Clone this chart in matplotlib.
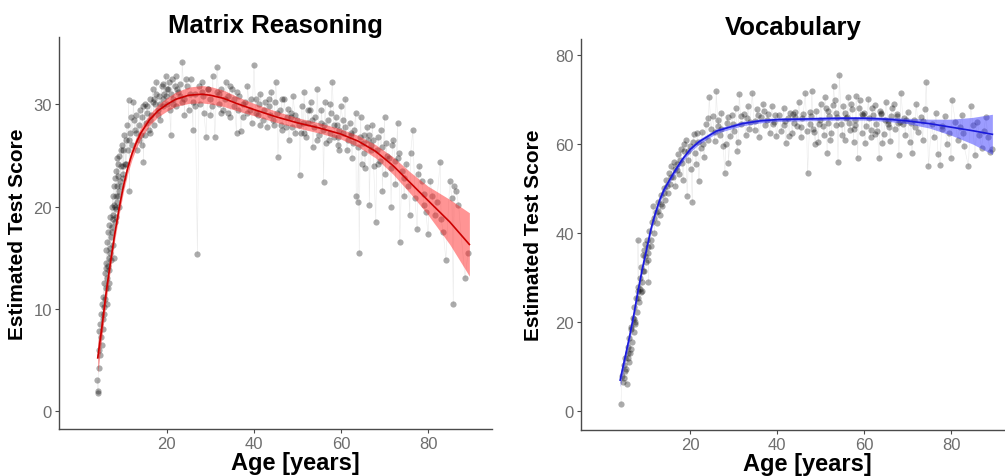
import matplotlib
matplotlib.use("Agg")
import matplotlib.pyplot as plt
import numpy as np

plt.rcParams['font.family'] = ['Liberation Sans', 'DejaVu Sans']

# ---- Matrix Reasoning: individual scores ----
mr_age = [
    4.0, 4.1, 4.2, 4.3, 4.4, 4.5, 4.6, 4.7, 4.8, 4.9,
    5.0, 5.1, 5.2, 5.3, 5.4, 5.5, 5.6, 5.7, 5.8, 5.9,
    6.0, 6.1, 6.2, 6.3, 6.4, 6.5, 6.6, 6.7, 6.8, 6.9,
    7.0, 7.1, 7.2, 7.3, 7.4, 7.5, 7.6, 7.7, 7.8, 7.9,
    8.0, 8.1, 8.2, 8.3, 8.4, 8.5, 8.6, 8.7, 8.8, 8.9,
    9.0, 9.2, 9.4, 9.6, 9.8, 10.0, 10.2, 10.4, 10.6, 10.8,
    11.0, 11.2, 11.4, 11.6, 11.8, 12.0, 12.3, 12.6, 12.9, 13.2,
    5.5, 6.0, 6.5, 7.0, 7.5, 8.0, 8.5, 9.0, 9.5, 10.0,
    13.5, 13.8, 14.0, 14.3, 14.6, 14.9, 15.2, 15.5, 15.8, 16.1,
    16.4, 16.7, 17.0, 17.3, 17.6, 17.9, 18.2, 18.5, 18.8, 19.1,
    19.4, 19.7, 20.0, 20.3, 20.6, 20.9, 21.2, 21.5, 21.8, 22.1,
    14.2, 15.0, 16.0, 17.0, 18.0, 19.0, 20.0, 21.0, 22.0, 23.0,
    22.5, 23.0, 23.5, 24.0, 24.5, 25.0, 25.5, 26.0, 26.5, 27.0,
    27.5, 28.0, 28.5, 29.0, 29.5, 30.0, 30.5, 31.0, 31.5, 32.0,
    32.5, 33.0, 33.5, 34.0, 34.5, 35.0, 35.5, 36.0, 36.5, 37.0,
    24.0, 26.0, 28.0, 30.0, 32.0, 34.0, 36.0, 38.0, 37.5, 38.5,
    39.0, 39.5, 40.0, 40.5, 41.0, 41.5, 42.0, 42.5, 43.0, 43.5,
    44.0, 44.5, 45.0, 45.5, 46.0, 46.5, 47.0, 47.5, 48.0, 48.5,
    49.0, 49.5, 50.0, 50.5, 51.0, 51.5, 52.0, 52.5, 53.0, 53.5,
    54.0, 54.5, 55.0, 55.5, 56.0, 56.5, 57.0, 57.5, 58.0, 58.5,
    59.0, 59.5, 60.0, 60.5, 41.2, 43.8, 46.2, 48.8, 51.2, 53.8,
    55.8, 57.2, 58.8, 44.8, 47.8, 50.8, 52.8, 56.2, 59.2, 61.0,
    61.5, 62.0, 62.5, 63.0, 63.5, 64.0, 64.2, 64.5, 65.0, 65.5,
    66.0, 66.5, 67.0, 67.5, 68.0, 68.5, 69.0, 69.5, 70.0, 70.5,
    61.0, 62.8, 63.8, 65.2, 66.8, 68.2, 69.2, 70.2, 64.8, 67.2,
    71.0, 71.5, 72.0, 72.5, 73.0, 73.5, 74.0, 74.5, 75.0, 75.5,
    76.0, 76.5, 77.0, 77.5, 78.0, 78.5, 79.0, 79.5, 80.0, 80.5,
    81.0, 81.5, 82.0, 82.8, 83.5, 84.1, 85.0, 85.5, 85.8, 86.5,
    87.0, 88.5, 89.2, 77.8, 79.0, 73.0, 75.8, 71.8, 83.0, 86.0,
    12.5, 13.0, 13.6, 14.4, 15.4, 16.2, 16.8, 17.4, 18.4, 19.2,
    19.8, 20.4, 21.4, 22.4, 23.4, 24.4, 25.4, 26.4, 27.4, 28.4,
    29.4, 30.4, 31.4, 32.4, 33.4, 34.4, 35.4, 36.4, 37.4, 38.4,
    39.4, 40.4, 41.4, 42.4, 43.4, 44.4, 45.4, 46.4, 47.4, 48.4,
    49.4, 50.4, 51.4, 52.4, 53.4, 54.4, 55.4, 56.4, 57.4, 58.4,
    59.4, 60.4, 61.4, 62.4, 63.4, 64.4, 65.4, 66.4, 67.4, 68.4,
    69.4, 70.4, 71.4, 72.4, 73.4, 74.4, 57.6, 59.6, 62.2, 66.2,
    6.2, 6.8, 7.4, 7.8, 8.2, 8.8, 9.4, 10.0, 10.6, 11.4,
]
mr_score = [
    3.0, 2.0, 1.8, 7.8, 4.2, 6.0, 8.5, 5.5, 7.2, 9.5,
    6.5, 10.5, 8.0, 11.2, 9.0, 12.5, 10.2, 13.5, 11.0, 14.5,
    12.0, 15.8, 13.0, 16.5, 14.2, 17.5, 15.0, 12.5, 18.2, 16.0,
    19.0, 17.0, 14.8, 20.0, 18.0, 21.0, 16.2, 19.2, 22.0, 20.2,
    18.5, 22.8, 21.0, 19.8, 23.5, 22.0, 20.5, 24.2, 23.0, 21.5,
    25.0, 22.5, 24.0, 26.0, 23.2, 25.5, 27.0, 24.2, 26.5, 28.0,
    25.5, 30.4, 21.5, 27.2, 28.8, 26.0, 30.2, 27.5, 29.0, 25.5,
    9.5, 14.0, 12.0, 15.5, 18.8, 20.0, 24.8, 20.0, 25.5, 22.8,
    28.0, 29.5, 27.0, 28.8, 24.4, 30.0, 28.2, 29.2, 27.5, 30.5,
    29.0, 31.5, 28.0, 30.0, 32.2, 29.0, 30.8, 28.5, 31.8, 29.8,
    31.0, 32.8, 30.0, 31.5, 29.5, 27.0, 32.5, 30.5, 31.8, 29.8,
    26.0, 27.0, 28.5, 30.5, 29.5, 30.5, 31.5, 31.0, 32.8, 30.8,
    31.2, 32.0, 34.2, 30.5, 31.8, 29.5, 32.5, 27.5, 31.0, 15.4,
    30.0, 32.2, 29.2, 26.8, 31.5, 30.5, 32.8, 26.8, 33.7, 30.0,
    31.5, 29.5, 32.2, 30.8, 28.8, 31.5, 29.8, 27.2, 30.8, 27.4,
    29.0, 30.2, 31.2, 29.0, 31.0, 29.2, 31.2, 30.2, 28.8, 31.8,
    29.5, 28.2, 33.9, 30.5, 29.0, 31.0, 28.5, 30.2, 27.8, 29.8,
    31.2, 28.0, 32.2, 24.9, 29.5, 27.5, 30.5, 28.8, 26.5, 29.2,
    30.8, 27.2, 28.5, 23.1, 29.8, 31.2, 26.8, 28.2, 30.2, 25.8,
    28.8, 31.5, 27.0, 29.5, 22.4, 26.2, 28.5, 30.0, 32.2, 26.8,
    28.0, 25.5, 29.8, 27.2, 30.0, 29.0, 28.0, 27.8, 28.2, 27.8,
    27.5, 26.5, 28.8, 30.2, 29.6, 27.2, 29.5, 28.0, 26.0, 30.5,
    26.5, 28.2, 24.8, 27.5, 21.0, 25.8, 15.5, 28.8, 26.2, 23.8,
    27.8, 20.2, 25.5, 24.0, 18.5, 26.8, 24.5, 21.5, 28.8, 25.0,
    27.8, 26.2, 20.5, 27.0, 26.0, 25.5, 27.5, 23.2, 24.2, 28.0,
    24.8, 20.0, 26.5, 22.2, 28.2, 16.5, 23.5, 21.0, 24.2, 22.0,
    25.2, 27.5, 20.8, 17.8, 24.0, 22.5, 21.2, 19.5, 17.3, 22.5,
    21.0, 19.2, 20.5, 24.4, 17.5, 14.8, 22.5, 20.8, 10.5, 21.5,
    20.2, 13.0, 15.5, 23.2, 20.2, 24.8, 19.2, 26.0, 18.8, 22.0,
    28.5, 27.2, 26.5, 29.8, 29.8, 27.2, 30.2, 31.0, 30.0, 32.0,
    30.8, 32.2, 30.0, 31.5, 30.2, 32.5, 31.0, 29.8, 31.8, 30.8,
    31.5, 29.8, 31.2, 29.2, 30.5, 31.8, 30.5, 29.5, 30.0, 29.2,
    30.5, 29.2, 28.0, 29.5, 30.5, 28.5, 29.2, 30.5, 27.8, 28.8,
    29.0, 28.0, 27.2, 29.5, 28.5, 26.5, 28.2, 30.2, 27.2, 28.0,
    26.8, 28.5, 25.5, 27.2, 29.2, 26.8, 25.2, 27.0, 26.5, 24.2,
    25.8, 26.2, 23.8, 24.5, 25.2, 22.8, 29.2, 27.5, 27.0, 26.5,
    10.5, 13.8, 17.5, 15.0, 19.0, 21.0, 22.0, 24.0, 24.2, 26.5,
]

# ---- Matrix Reasoning: fitted curve and confidence band ----
mr_fit_age = [4.1, 5, 6, 7, 8, 9, 10, 11, 12, 13, 14, 16, 18, 20, 22, 25, 28, 30,
              33, 36, 40, 45, 50, 55, 60, 64, 68, 72, 76, 80, 85, 89.5]
mr_fit = [5.2, 8.0, 11.5, 14.5, 17.3, 19.8, 22.0, 23.8, 25.2, 26.3, 27.2, 28.5,
          29.4, 30.0, 30.5, 30.9, 31.0, 30.9, 30.6, 30.1, 29.5, 28.8, 28.2,
          27.7, 27.1, 26.4, 25.4, 24.0, 22.3, 20.6, 18.5, 16.3]
mr_ci = [1.5, 1.0, 0.8, 0.7, 0.6, 0.6, 0.55, 0.55, 0.55, 0.55, 0.55, 0.55, 0.6,
         0.65, 0.7, 0.8, 0.85, 0.85, 0.8, 0.7, 0.6, 0.55, 0.5, 0.5, 0.5, 0.55,
         0.65, 0.85, 1.05, 1.4, 2.2, 3.1]

# ---- Vocabulary: individual scores ----
voc_age = [
    4.1, 4.3, 4.5, 4.7, 4.9, 5.1, 5.3, 5.5, 5.7, 5.9,
    6.0, 6.2, 6.4, 6.6, 6.8, 7.0, 7.2, 7.4, 7.6, 7.8,
    8.0, 8.2, 8.4, 8.6, 8.8, 9.0, 9.2, 9.4, 9.6, 9.8,
    10.0, 10.3, 10.6, 10.9, 11.2, 11.5, 11.8, 12.1, 12.4, 12.7,
    5.6, 6.3, 7.1, 7.9, 8.5, 9.1, 9.7, 10.4, 8.0, 10.4,
    13.0, 13.3, 13.6, 13.9, 14.2, 14.5, 14.8, 15.1, 15.4, 15.7,
    16.0, 16.3, 16.6, 16.9, 17.2, 17.5, 17.8, 18.1, 18.4, 18.7,
    19.0, 19.3, 19.6, 19.9, 20.2, 20.5, 20.8, 21.1, 21.4, 21.7,
    22.0, 22.4, 22.8, 23.2, 23.6, 24.0, 24.4, 24.8, 14.0, 17.0,
    25.2, 25.6, 26.0, 26.4, 26.8, 27.2, 27.6, 28.0, 28.4, 28.8,
    29.2, 29.6, 30.0, 30.5, 31.0, 31.3, 31.8, 32.3, 32.8, 33.3,
    33.8, 34.3, 34.8, 35.3, 35.8, 36.3, 36.8, 37.3, 37.8, 38.3,
    38.8, 39.3, 39.8, 26.5, 28.2, 30.8, 33.0, 35.0, 37.0, 39.0,
    40.5, 41.0, 41.5, 42.0, 42.5, 43.0, 43.5, 44.0, 44.5, 45.0,
    45.5, 46.0, 46.5, 47.0, 47.5, 48.0, 48.5, 49.0, 49.5, 50.0,
    50.5, 51.0, 51.5, 52.0, 52.5, 53.0, 53.5, 54.0, 54.3, 54.8,
    55.2, 55.6, 56.0, 56.4, 56.8, 57.2, 57.6, 58.0, 58.5, 59.0,
    59.5, 60.0, 41.8, 43.8, 45.8, 47.8, 49.8, 51.8, 53.8, 55.8,
    57.8, 59.8, 50.8, 52.8, 46.8, 48.8, 44.2, 56.6, 58.8, 42.8,
    60.5, 61.0, 61.5, 62.0, 62.5, 63.0, 63.5, 64.0, 64.5, 65.0,
    65.5, 66.0, 66.5, 67.0, 67.5, 68.0, 68.5, 69.0, 69.5, 70.0,
    70.5, 71.0, 71.5, 72.0, 72.5, 73.0, 73.5, 74.0, 74.3, 74.8,
    61.2, 62.8, 64.8, 66.2, 67.8, 69.2, 63.8, 65.8, 68.2, 70.8,
    75.5, 76.0, 76.5, 77.0, 77.5, 78.0, 78.5, 79.0, 79.5, 80.0,
    80.2, 81.0, 81.5, 82.0, 82.5, 83.0, 84.0, 84.5, 85.5, 86.0,
    86.5, 87.0, 87.5, 88.0, 89.0, 89.5, 77.8, 82.8, 85.0, 88.5,
    5.0, 5.8, 6.5, 7.3, 8.1, 8.9, 9.5, 10.2, 11.0, 11.8,
    12.6, 13.4, 14.6, 15.6, 16.6, 17.6, 18.6, 19.6, 20.6, 21.6,
    23.0, 24.2, 25.8, 27.0, 28.6, 29.8, 31.6, 33.6, 35.6, 37.6,
    39.6, 41.6, 43.6, 45.6, 47.6, 49.6, 51.6, 53.6, 55.6, 57.6,
    59.6, 61.6, 63.6, 65.6, 67.6, 69.6, 71.6, 73.6, 51.2, 55.0,
    57.0, 61.8, 62.4, 64.2, 66.8, 60.2, 52.2, 48.2, 53.2, 58.2,
]
voc_score = [
    1.6, 8.0, 6.5, 10.5, 7.5, 12.0, 9.5, 6.1, 14.5, 11.0,
    16.5, 13.2, 18.5, 15.5, 21.0, 17.8, 23.5, 20.0, 25.5, 22.2,
    28.0, 24.5, 30.0, 26.8, 32.5, 29.0, 35.0, 31.5, 37.5, 33.5,
    38.5, 35.5, 40.5, 37.2, 42.5, 46.0, 40.0, 44.8, 42.2, 47.0,
    13.0, 14.0, 20.8, 27.0, 27.5, 31.5, 34.8, 36.8, 38.5, 29.0,
    44.0, 48.5, 46.0, 50.2, 47.5, 52.0, 49.0, 53.5, 51.0, 55.0,
    52.5, 56.0, 50.5, 55.5, 57.8, 53.2, 59.0, 55.8, 52.0, 58.5,
    61.0, 48.3, 56.5, 59.5, 54.5, 46.9, 62.2, 58.0, 55.5, 60.5,
    51.8, 59.2, 62.8, 57.0, 64.5, 61.0, 70.5, 63.5, 49.0, 54.2,
    66.2, 60.8, 71.9, 64.0, 62.0, 67.0, 59.5, 53.4, 64.8, 55.8,
    61.8, 66.5, 63.0, 68.0, 60.5, 71.3, 64.5, 66.8, 62.0, 68.5,
    65.0, 71.5, 63.2, 67.8, 61.5, 66.0, 69.0, 64.2, 66.8, 62.5,
    68.5, 65.0, 61.8, 65.5, 60.0, 58.5, 65.8, 65.2, 67.5, 64.5,
    66.5, 63.0, 68.2, 60.2, 65.8, 67.0, 62.5, 66.0, 64.0, 69.5,
    61.5, 66.8, 71.5, 53.4, 64.5, 72.0, 62.8, 67.5, 60.5, 69.0,
    64.0, 70.5, 58.0, 66.2, 62.5, 73.0, 67.0, 56.0, 75.6, 64.5,
    68.5, 61.0, 66.0, 70.5, 63.2, 67.8, 60.5, 65.5, 56.8, 69.8,
    62.5, 67.0, 65.2, 64.8, 65.8, 66.2, 65.5, 64.8, 66.0, 65.8,
    64.2, 66.5, 62.0, 68.8, 63.0, 60.0, 67.2, 64.8, 68.0, 61.8,
    64.0, 70.2, 61.5, 66.5, 68.8, 63.0, 56.8, 67.0, 62.2, 69.5,
    65.2, 60.8, 68.0, 63.5, 66.8, 57.5, 71.5, 64.5, 62.0, 67.2,
    60.5, 58.0, 65.5, 69.0, 62.8, 66.0, 61.0, 67.8, 73.9, 55.0,
    65.8, 64.5, 65.5, 66.2, 64.8, 65.8, 66.8, 63.8, 65.0, 64.8,
    64.5, 61.5, 67.0, 57.8, 55.3, 63.5, 66.2, 60.0, 62.5, 56.8,
    70.0, 65.0, 61.0, 63.8, 66.5, 59.5, 55.0, 68.5, 57.5, 65.0,
    62.0, 59.2, 63.0, 66.0, 58.2, 59.0, 64.0, 62.5, 64.2, 61.5,
    9.0, 12.0, 19.0, 19.5, 25.5, 27.0, 36.2, 34.0, 38.5, 43.5,
    45.0, 46.5, 50.5, 52.5, 54.5, 56.5, 60.0, 58.5, 60.5, 62.5,
    60.0, 65.8, 62.8, 63.5, 66.0, 64.5, 66.2, 63.5, 66.5, 65.5,
    66.5, 64.2, 66.8, 63.8, 67.2, 64.5, 67.5, 64.2, 67.0, 63.5,
    66.8, 63.2, 67.5, 64.5, 66.2, 65.5, 63.8, 65.2, 68.2, 62.0,
    69.0, 68.0, 62.2, 60.2, 69.0, 60.2, 61.0, 63.5, 69.8, 70.8,
]

# ---- Vocabulary: fitted curve and confidence band ----
voc_fit_age = [3.9, 5, 6, 7, 8, 9, 10, 11, 12, 13, 14, 16, 18, 20, 22, 26, 28,
               32, 36, 40, 45, 50, 55, 60, 65, 70, 75, 80, 85, 89.5]
voc_fit = [7.0, 12.0, 16.5, 21.5, 27.0, 32.0, 36.5, 41.0, 44.5, 47.5, 49.8, 53.2,
           56.3, 58.8, 60.5, 62.9, 63.5, 64.6, 65.2, 65.5, 65.6, 65.7, 65.8,
           65.8, 65.6, 65.2, 64.6, 63.8, 63.0, 62.2]
voc_ci = [1.5, 1.2, 1.0, 0.9, 0.8, 0.75, 0.7, 0.7, 0.65, 0.65, 0.6, 0.6, 0.6, 0.6,
          0.55, 0.5, 0.5, 0.5, 0.45, 0.4, 0.4, 0.4, 0.4, 0.4, 0.45, 0.6, 1.0,
          1.8, 3.0, 4.5]

TICK_GRAY = '#6e6e6e'
AXIS_GRAY = '#4a4a4a'


def draw_panel(ax, age, score, fit_age, fit, ci, line_col, band_col, title):
    age = np.array(age)
    score = np.array(score)
    order = np.argsort(age, kind='stable')
    # faint connecting lines between repeated measures
    ax.plot(age[order], score[order], color='#b8b8b8', lw=0.4, alpha=0.3, zorder=1)
    ax.scatter(age, score, s=20, color='black', alpha=0.33, linewidths=0, zorder=2)
    fit = np.array(fit)
    ci = np.array(ci)
    ax.fill_between(fit_age, fit - ci, fit + ci, color=band_col, alpha=0.5, lw=0, zorder=3)
    ax.plot(fit_age, fit, color=line_col, lw=1.2, zorder=4)

    ax.set_title(title, fontsize=18.5, fontweight='bold', pad=1)
    ax.set_xlabel('Age [years]', fontsize=17, fontweight='bold')
    ax.set_ylabel('Estimated Test Score', fontsize=15, fontweight='bold')
    ax.set_xticks([20, 40, 60, 80])
    for side in ['top', 'right']:
        ax.spines[side].set_visible(False)
    for side in ['left', 'bottom']:
        ax.spines[side].set_color(AXIS_GRAY)
        ax.spines[side].set_linewidth(1.0)
    ax.tick_params(colors=AXIS_GRAY, labelcolor=TICK_GRAY, labelsize=12,
                   length=3, width=0.8, pad=2)


fig = plt.figure(figsize=(10.05, 4.77), dpi=100)

ax1 = fig.add_axes([59 / 1005, 1 - 430 / 477, 433 / 1005, 392 / 477])
draw_panel(ax1, mr_age, mr_score, mr_fit_age, mr_fit, mr_ci,
           '#cc0000', '#ff2a2a', 'Matrix Reasoning')
ax1.set_xlim(-4.8, 94.7)
ax1.set_ylim(-1.76, 36.6)
ax1.set_yticks([0, 10, 20, 30])
ax1.yaxis.set_label_coords(-0.074, 0.5)
ax1.xaxis.set_label_coords(0.545, -0.055)

ax2 = fig.add_axes([581 / 1005, 1 - 431 / 477, 424 / 1005, 391 / 477])
draw_panel(ax2, voc_age, voc_score, voc_fit_age, voc_fit, voc_ci,
           '#1a1adb', '#3a3aff', 'Vocabulary')
ax2.set_xlim(-5.1, 92.4)
ax2.set_ylim(-4.2, 83.6)
ax2.set_yticks([0, 20, 40, 60, 80])
ax2.yaxis.set_label_coords(-0.09, 0.5)
ax2.xaxis.set_label_coords(0.535, -0.055)

fig.savefig('out.png', dpi=100)
